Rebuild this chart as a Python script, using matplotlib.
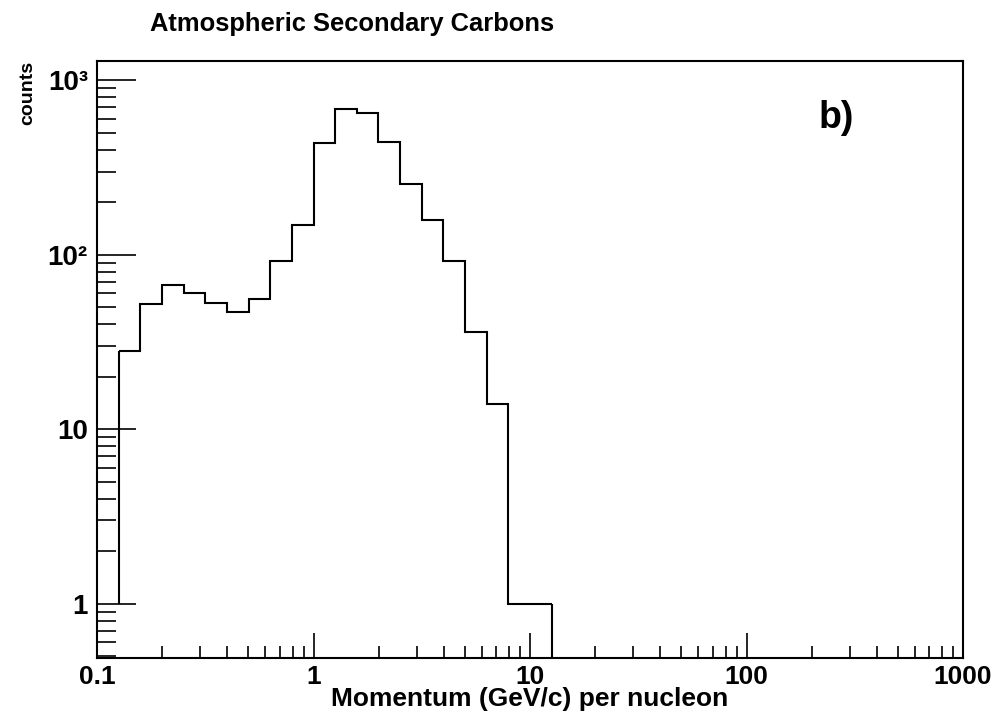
import numpy as np
import matplotlib
matplotlib.use("Agg")
import matplotlib.pyplot as plt
from matplotlib.ticker import FixedLocator, LogLocator, NullFormatter

plt.rcParams['font.family'] = ['Liberation Sans', 'DejaVu Sans']
plt.rcParams['font.weight'] = 'bold'

# bin edges: 10 bins per decade, starting at 0.1*10^(1/10)
edges = 0.1 * 10 ** (np.arange(1, 22) / 10.0)
counts = [28, 52, 67, 60, 53, 47, 56, 92, 149, 435, 684, 651, 443, 256,
          158, 92, 36, 14, 1, 1]

xticks = [0.1, 1, 10, 100, 1000]
xticklabels = ['0.1', '1', '10', '100', '1000']
yticks = [1, 10, 100, 1000]
yticklabels = ['1', '10', '10²', '10³']

fig = plt.figure(figsize=(10, 7.26), dpi=100)
ax = fig.add_axes([0.097, 0.094, 0.866, 0.822])

ax.set_xscale('log')
ax.set_yscale('log')
ax.set_xlim(0.1, 1000)
ax.set_ylim(0.49, 1290)

ax.stairs(counts, edges, baseline=None, color='black', lw=1.5)
# outer edges: left drops to 1, right drops to the axis bottom
ax.vlines(edges[0], 1, counts[0], color='black', lw=1.5)
ax.vlines(edges[-1], ax.get_ylim()[0], counts[-1], color='black', lw=1.5)

ax.xaxis.set_major_locator(FixedLocator(xticks))
ax.set_xticklabels(xticklabels)
ax.xaxis.set_minor_locator(LogLocator(base=10, subs=np.arange(2, 10)))
ax.xaxis.set_minor_formatter(NullFormatter())
ax.yaxis.set_major_locator(FixedLocator(yticks))
ax.set_yticklabels(yticklabels)
ax.yaxis.set_minor_locator(LogLocator(base=10, subs=np.arange(2, 10)))
ax.yaxis.set_minor_formatter(NullFormatter())

ax.tick_params(axis='x', which='major', direction='in', length=18, width=1.2,
               labelsize=19, pad=5)
ax.tick_params(axis='x', which='minor', direction='in', length=9, width=1.2)
ax.tick_params(axis='y', which='major', direction='in', length=28, width=1.2,
               labelsize=20, pad=6.5)
ax.tick_params(axis='y', which='minor', direction='in', length=14, width=1.2)
for lab in ax.get_xticklabels() + ax.get_yticklabels():
    lab.set_fontweight('bold')

for s in ax.spines.values():
    s.set_linewidth(1.5)

ax.set_xlabel('Momentum (GeV/c) per nucleon', fontsize=19,
              fontweight='bold', labelpad=-1)
ax.set_ylabel('counts', fontsize=14, fontweight='bold', loc='top')
ax.yaxis.set_label_coords(-0.07, 1.0)

fig.text(0.150, 1 - 31 / 726, 'Atmospheric Secondary Carbons', fontsize=18.4,
         fontweight='bold', va='baseline')
ax.text(0.8326, 0.905, 'b)', transform=ax.transAxes, fontsize=27,
        fontweight='bold', va='center')

fig.savefig('out.png', dpi=100)
